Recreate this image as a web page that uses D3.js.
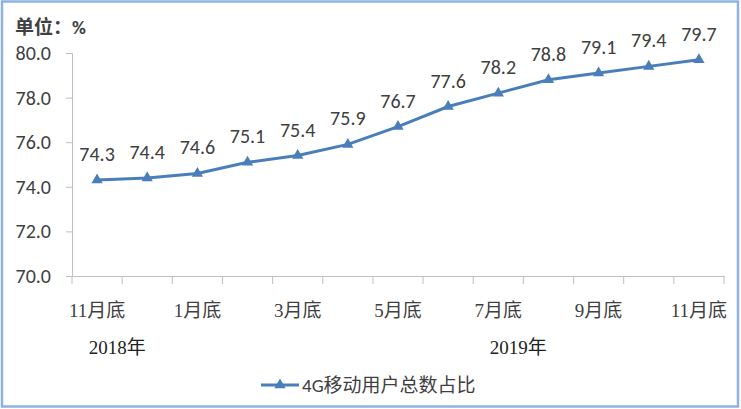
<!DOCTYPE html>
<html><head><meta charset="utf-8">
<script src="https://cdn.jsdelivr.net/npm/d3@7/dist/d3.min.js"></script>
<style>
body{margin:0;background:#fff;}
svg{display:block;}
</style></head>
<body>
<script>
const categories = ["11月底","12月底","1月底","2月底","3月底","4月底","5月底","6月底","7月底","8月底","9月底","10月底","11月底"];
const shownLabels = ["11月底","","1月底","","3月底","","5月底","","7月底","","9月底","","11月底"];
const values = [74.3,74.4,74.6,75.1,75.4,75.9,76.7,77.6,78.2,78.8,79.1,79.4,79.7];
const yTicks = [70,72,74,76,78,80];
const yearLabels = [{text:"2018年", idx:0.4},{text:"2019年", idx:8.4}];
const seriesName = "4G移动用户总数占比";
const unitLabel = "单位：%";

(function(){
const W=741,H=409;
const svg=d3.select("body").append("svg").attr("width",W).attr("height",H);
svg.append("rect").attr("x",2).attr("y",1.5).attr("width",736).attr("height",405)
  .attr("fill","#fff").attr("stroke","#8db3e2").attr("stroke-width",2.5);

const mLeft=72,mRight=724,mTop=53,mBottom=276;
const x=d3.scaleBand().domain(d3.range(categories.length)).range([mLeft,mRight]);
const y=d3.scaleLinear().domain([70,80]).range([mBottom,mTop]);
const axisColor="#bfbfbf";
const sans="Calibri, Carlito, 'Noto Sans', 'Noto Sans CJK SC', sans-serif";
const serif="'Liberation Serif','Times New Roman','Noto Sans CJK SC',serif";

// Y axis
const ya=svg.append("g").attr("transform",`translate(${mLeft},0)`)
  .call(d3.axisLeft(y).tickValues(yTicks).tickFormat(d3.format(".1f")).tickSizeOuter(0).tickSize(6));
ya.select(".domain").attr("stroke",axisColor);
ya.selectAll(".tick line").attr("stroke",axisColor);
ya.selectAll(".tick text").attr("fill","#404040").attr("font-size",20).attr("font-family",sans).attr("x",-21);

// X axis
const xa=svg.append("g").attr("transform",`translate(0,${mBottom})`)
  .call(d3.axisBottom(x).tickFormat(()=>"").tickSize(0).tickSizeOuter(0));
xa.select(".domain").attr("stroke",axisColor);
xa.selectAll(".tick").remove();
const bounds=d3.range(categories.length+1).map(i=>i<categories.length?x(i):mRight);
svg.append("g").selectAll("line").data(bounds).join("line")
  .attr("x1",d=>d).attr("x2",d=>d).attr("y1",mBottom).attr("y2",mBottom+8)
  .attr("stroke",axisColor);
svg.append("g").selectAll("text").data(shownLabels).join("text")
  .attr("x",(d,i)=>x(i)+x.bandwidth()/2).attr("y",mBottom+41)
  .attr("text-anchor","middle").attr("fill","#404040").attr("font-size",19)
  .attr("font-family",serif).text(d=>d);
svg.append("g").selectAll("text").data(yearLabels).join("text")
  .attr("x",d=>x(0)+x.bandwidth()*(d.idx+0.5)).attr("y",mBottom+78)
  .attr("text-anchor","middle").attr("fill","#222").attr("font-size",19)
  .attr("font-family",serif).text(d=>d.text);

// line
const lineColor="#4a7ebb";
const cx=i=>x(i)+x.bandwidth()/2;
svg.append("path").datum(values)
  .attr("d",d3.line().x((d,i)=>cx(i)).y(d=>y(d)))
  .attr("fill","none").attr("stroke",lineColor).attr("stroke-width",3);
const tri=d3.symbol().type(d3.symbolTriangle).size(55);
svg.append("g").selectAll("path").data(values).join("path")
  .attr("d",tri).attr("transform",(d,i)=>`translate(${cx(i)},${y(d)})`)
  .attr("fill",lineColor);
svg.append("g").selectAll("text").data(values).join("text")
  .attr("x",(d,i)=>cx(i)).attr("y",d=>y(d)-19)
  .attr("text-anchor","middle").attr("fill","#404040").attr("font-size",20)
  .attr("font-family",sans).text(d=>d3.format(".1f")(d));

// unit
svg.append("text").attr("x",15).attr("y",34).attr("font-size",19).attr("font-weight","bold")
  .attr("fill","#404040").attr("font-family",sans).text(unitLabel);

// legend
svg.append("line").attr("x1",261).attr("x2",299).attr("y1",385).attr("y2",385)
  .attr("stroke",lineColor).attr("stroke-width",3);
svg.append("path").attr("d",tri).attr("transform","translate(280,385)").attr("fill",lineColor);
svg.append("text").attr("x",302).attr("y",392).attr("font-size",19).attr("fill","#404040")
  .attr("font-family",sans).text(seriesName);
})();
</script>
</body></html>
